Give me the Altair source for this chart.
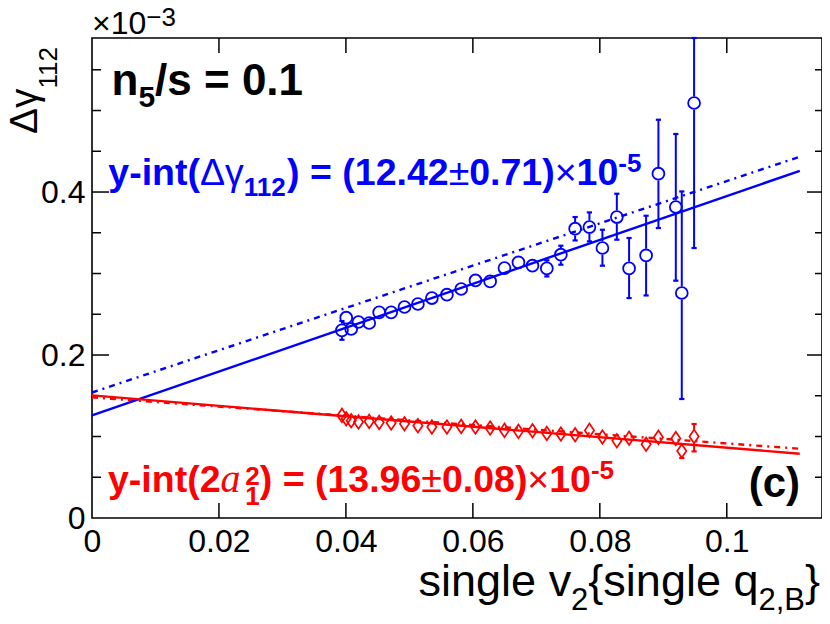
import altair as alt
import pandas as pd

# ---------------- data (Δγ112 in units of 1e-3) ----------------
v2 = [0.03937, 0.04005, 0.04083, 0.04198, 0.04367, 0.04524, 0.04713, 0.04923, 0.05134, 0.05354,
      0.05591, 0.05816, 0.06041, 0.06272, 0.06498, 0.06718, 0.06939, 0.07165, 0.07386, 0.07611,
      0.07836, 0.08041, 0.08268, 0.08461, 0.08729, 0.08923, 0.09197, 0.09291, 0.09485]

blue_y = [0.2302, 0.2458, 0.2319, 0.2405, 0.2393, 0.2523, 0.2523, 0.2589, 0.2626, 0.2699,
          0.2740, 0.2810, 0.2915, 0.2903, 0.3067, 0.3136, 0.3096, 0.3063, 0.3231, 0.3550,
          0.3570, 0.3313, 0.3693, 0.3063, 0.3222, 0.4225, 0.3816, 0.2761, 0.5092]
blue_lo = [0.2187, 0.2398, 0.2259, 0.2345, 0.2333, 0.2463, 0.2463, 0.2529, 0.2566, 0.2639,
           0.2680, 0.2750, 0.2855, 0.2843, 0.3007, 0.3076, 0.3036, 0.2964, 0.3108, 0.3406,
           0.3394, 0.3096, 0.3415, 0.2699, 0.2731, 0.3558, 0.2912, 0.1460, 0.3313]
blue_hi = [0.2417, 0.2518, 0.2379, 0.2465, 0.2453, 0.2583, 0.2583, 0.2649, 0.2686, 0.2759,
           0.2800, 0.2870, 0.2975, 0.2963, 0.3127, 0.3196, 0.3156, 0.3162, 0.3341, 0.3693,
           0.3750, 0.3537, 0.3979, 0.3436, 0.3709, 0.4887, 0.4712, 0.4007, 0.5890]

red_y = [0.1259, 0.1218, 0.1194, 0.1178, 0.1185, 0.1173, 0.1166, 0.1157, 0.1133, 0.1117,
         0.1117, 0.1124, 0.1117, 0.1104, 0.1075, 0.1063, 0.1071, 0.1038, 0.1031, 0.1022,
         0.1075, 0.0994, 0.0948, 0.0978, 0.0905, 0.0990, 0.0975, 0.0822, 0.1001]
red_lo = [v - 0.002 for v in red_y[:26]] + [0.0899, 0.0736, 0.0817]
red_hi = [v + 0.002 for v in red_y[:26]] + [0.1043, 0.0900, 0.1153]

fit_x = [0.0, 0.1115]
blue_fit = [0.1259, 0.4260]
blue_alt = [0.1540, 0.4433]
red_fit = [0.1505, 0.0789]
red_alt = [0.1480, 0.0850]

x_ticks = [0, 0.02, 0.04, 0.06, 0.08, 0.1]
y_major = [0, 0.2, 0.4]
y_minor = [0.05, 0.1, 0.15, 0.25, 0.3, 0.35, 0.45, 0.5, 0.55]

# ---------------- geometry / style ----------------
W, H = 730, 480
X_DOM = [0, 0.115]
Y_DOM = [0, 0.589]
PPU = H / Y_DOM[1]
BLUE, RED, BLACK = "#0000ff", "#ff0000", "#000000"
xs = alt.Scale(domain=X_DOM, nice=False, zero=False)
ys = alt.Scale(domain=Y_DOM, nice=False, zero=False)
RB = 6.7   # circle radius px
RD = 6.8   # diamond half height px

AXX = alt.Axis(values=x_ticks, format=".2~f", ticks=False, tickSize=0, domain=False, grid=False,
               labelFont="Liberation Sans", labelFontSize=32, labelColor=BLACK, labelPadding=8,
               labelFlush=False, labelOverlap=False, title=None)
AXY = alt.Axis(values=y_major, format=".1~f", ticks=False, tickSize=0, domain=False, grid=False,
               labelFont="Liberation Sans", labelFontSize=32, labelColor=BLACK, labelPadding=7,
               labelFlush=False, labelOverlap=False, title=None)


def X(f="x"):
    return alt.X(f + ":Q", scale=xs, axis=AXX, title=None)


def Y(f="y"):
    return alt.Y(f + ":Q", scale=ys, axis=AXY, title=None)


def errbar_layers(xv, yv, lo, hi, r, color):
    up = pd.DataFrame([dict(x=a, y=b, e=c) for a, b, c in zip(xv, yv, hi) if (c - b) * PPU > r])
    dn = pd.DataFrame([dict(x=a, y=b, e=c) for a, b, c in zip(xv, yv, lo) if (b - c) * PPU > r])
    layers = []
    for df, sign in ((up, -1), (dn, 1)):
        if len(df) == 0:
            continue
        if sign < 0:
            seg = alt.Chart(df).mark_rule(color=color, strokeWidth=2, y2Offset=-r).encode(
                x=X(), y=Y("e"), y2=alt.Y2("y"))
        else:
            seg = alt.Chart(df).mark_rule(color=color, strokeWidth=2, yOffset=r).encode(
                x=X(), y=Y("y"), y2=alt.Y2("e"))
        cap = alt.Chart(df).mark_rule(color=color, strokeWidth=2.2, xOffset=-2.6, x2Offset=2.6).encode(
            x=X(), x2=alt.X2("x"), y=Y("e"))
        layers += [seg, cap]
    return layers


# ---------------- rich text layout ----------------
DIG = {c: 556 for c in "0123456789"}
METRICS = {
    "sansR": dict(DIG, **{" ": 278, ",": 278, ".": 278, "B": 667, "e": 556, "g": 556, "i": 222,
                          "l": 222, "n": 556, "q": 556, "s": 500, "v": 500, "{": 334, "}": 334,
                          "×": 584, "±": 549, "Δ": 667, "γ": 500, "−": 584}),
    "sansB": dict(DIG, **{" ": 278, "(": 333, ")": 333, "-": 333, ".": 278, "/": 278, "=": 584,
                          "c": 556, "i": 278, "n": 611, "s": 556, "t": 333, "y": 556}),
    "serifI": {"a": 620},
}
STYLES = {
    "sansR": dict(font="Liberation Sans", fontWeight="normal", fontStyle="normal"),
    "sansB": dict(font="Liberation Sans", fontWeight="bold", fontStyle="normal"),
    "serifI": dict(font="Liberation Serif", fontWeight="normal", fontStyle="italic"),
}


def text_width(pieces):
    tot = 0.0
    for p in pieces:
        adv = p[4] if len(p) > 4 else True
        if adv:
            tot += sum(METRICS[p[1]].get(c, 556) for c in p[0]) * p[2] / 1000
    return tot


def layout(pieces, x0, y0, color, vertical=False):
    rows, pos = [], 0.0
    for p in pieces:
        text, style, fs, shift = p[:4]
        adv = p[4] if len(p) > 4 else True
        w = sum(METRICS[style].get(c, 556) for c in text) * fs / 1000
        if vertical:
            rows.append(dict(text=text, style=style, fs=fs, x=x0 + shift, y=y0 - pos, color=color, ang=270))
        else:
            rows.append(dict(text=text, style=style, fs=fs, x=x0 + pos, y=y0 + shift, color=color, ang=0))
        if adv:
            pos += w
    return rows


FS, FSS = 37.5, 26
rows = []
# ×10^-3
rows += layout([("×10", "sansR", 32, 0), ("−3", "sansR", 26, -8)], 0, -4, BLACK)
# y title
rows += layout([("Δγ", "sansR", 39, 0), ("112", "sansR", 26, 20)], -55, 96, BLACK, vertical=True)
# x title (right aligned)
xt = [("single v", "sansR", 45, 0), ("2", "sansR", 31, 14), ("{single q", "sansR", 45, 0),
      ("2,B", "sansR", 31, 14), ("}", "sansR", 45, 0)]
rows += layout(xt, 728 - text_width(xt), 558, BLACK)
# n5/s = 0.1
rows += layout([("n", "sansB", 44, 0), ("5", "sansB", 30, 12), ("/s = 0.1", "sansB", 44, 0)], 19.5, 57, BLACK)
# blue label
rows += layout([("y-int(", "sansB", FS, 0), ("Δγ", "sansR", FS, 0), ("112", "sansB", FSS, 11),
                (") = (12.42", "sansB", FS, 0), ("±", "sansR", FS, 0), ("0.71)", "sansB", FS, 0),
                ("×", "sansR", FS, 0), ("10", "sansB", FS, 0), ("-5", "sansB", FSS, -13)],
               16.3, 147, BLUE)
# red label
rows += layout([("y-int(2", "sansB", FS, 0), ("a", "serifI", 40, 0), ("2", "sansB", FSS, -7, False),
                ("1", "sansB", FSS, 13), (") = (13.96", "sansB", FS, 0), ("±", "sansR", FS, 0),
                ("0.08)", "sansB", FS, 0), ("×", "sansR", FS, 0), ("10", "sansB", FS, 0),
                ("-5", "sansB", FSS, -13)], 16, 453.7, RED)
# (c)
cl = [("(c)", "sansB", 42, 0)]
rows += layout(cl, 708 - text_width(cl), 459, BLACK)

tdf = pd.DataFrame(rows)
text_layers = []
for (style, color, ang), g in tdf.groupby(["style", "color", "ang"]):
    mk = dict(STYLES[style])
    if ang:
        mk["angle"] = int(ang)
    text_layers.append(
        alt.Chart(g.reset_index(drop=True)).mark_text(align="left", baseline="alphabetic", color=color, **mk).encode(
            x=alt.X("x:Q", scale=None),
            y=alt.Y("y:Q", scale=None),
            text="text:N",
            size=alt.Size("fs:Q", scale=None, legend=None),
        )
    )

# ---------------- data layers ----------------
bdf = pd.DataFrame({"x": v2, "y": blue_y})
rdf = pd.DataFrame({"x": v2, "y": red_y})

blue_pts = alt.Chart(bdf).mark_point(shape="circle", filled=False, size=141, strokeWidth=1.8,
                                     color=BLUE, opacity=1).encode(x=X(), y=Y())
red_pts = alt.Chart(rdf).mark_point(shape="M0,-1L0.68,0L0,1L-0.68,0Z", filled=False, size=185,
                                    strokeWidth=1.7, color=RED, opacity=1).encode(x=X(), y=Y())


def line(yv, color, dash=None):
    kw = dict(color=color, strokeWidth=2.4)
    if dash:
        kw["strokeDash"] = dash
    return alt.Chart(pd.DataFrame({"x": fit_x, "y": yv})).mark_line(**kw).encode(x=X(), y=Y())


DASH = [6, 5, 2, 5]
lines = [line(blue_alt, BLUE, DASH), line(red_alt, RED, DASH), line(blue_fit, BLUE), line(red_fit, RED)]

# ---------------- inward ticks ----------------
xt_df = pd.DataFrame({"x": x_ticks[1:]})
ymaj_df = pd.DataFrame({"y": y_major[1:]})
ymin_df = pd.DataFrame({"y": y_minor})
tk = dict(color=BLACK, strokeWidth=1.5)
ticks = [
    alt.Chart(xt_df).mark_rule(**tk).encode(x=X(), y=alt.value(H), y2=alt.value(H - 15)),
    alt.Chart(xt_df).mark_rule(**tk).encode(x=X(), y=alt.value(0), y2=alt.value(15)),
    alt.Chart(ymaj_df).mark_rule(**tk).encode(y=Y(), x=alt.value(0), x2=alt.value(17)),
    alt.Chart(ymin_df).mark_rule(**tk).encode(y=Y(), x=alt.value(0), x2=alt.value(9)),
    alt.Chart(ymaj_df).mark_rule(**tk).encode(y=Y(), x=alt.value(W), x2=alt.value(W - 15)),
    alt.Chart(ymin_df).mark_rule(**tk).encode(y=Y(), x=alt.value(W), x2=alt.value(W - 7)),
]

layers = ([blue_pts, red_pts] + ticks
          + errbar_layers(v2, blue_y, blue_lo, blue_hi, RB, BLUE)
          + errbar_layers(v2, red_y, red_lo, red_hi, RD, RED)
          + lines + text_layers)

chart = alt.layer(*layers).properties(
    width=W, height=H,
    autosize=alt.AutoSizeParams(type="none"),
    padding={"left": 84, "top": 30, "right": 0, "bottom": 99},
    background="white",
).configure_view(stroke=BLACK, strokeWidth=1.6)

chart.save("out.html", embed_options={"renderer": "svg", "actions": False})
